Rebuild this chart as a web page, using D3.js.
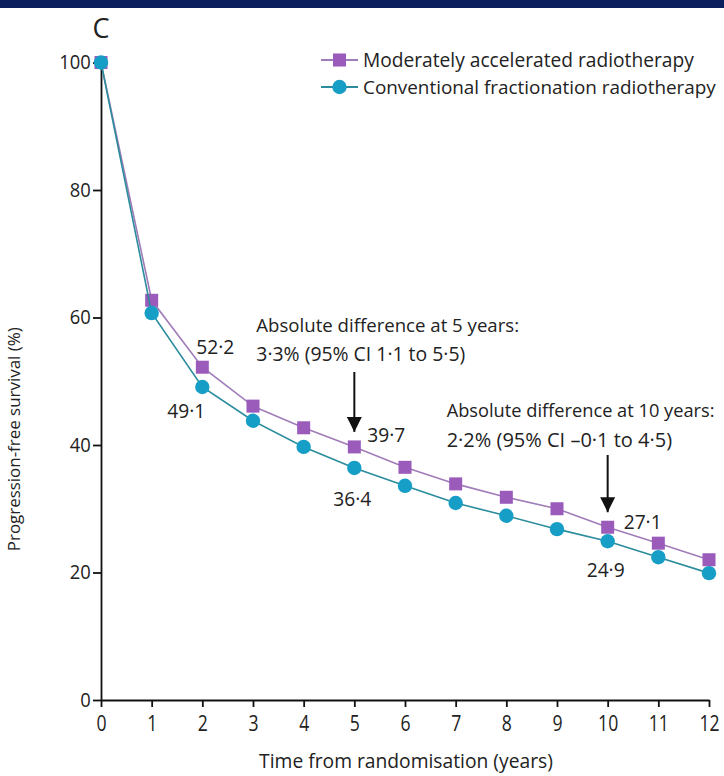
<!DOCTYPE html>
<html>
<head>
<meta charset="utf-8">
<script src="https://cdn.jsdelivr.net/npm/d3@7/dist/d3.min.js"></script>
<style>
  html, body { margin: 0; padding: 0; background: #fff; }
  svg { display: block; }
  text { font-family: "Open Sans", "Noto Sans", sans-serif; fill: #222; }
</style>
</head>
<body>
<svg id="chart" width="724" height="776"></svg>
<script>
// Progression-free survival by treatment arm, yearly estimates
const years = [0, 1, 2, 3, 4, 5, 6, 7, 8, 9, 10, 11, 12];
const accelerated = [100, 62.7, 52.2, 46.1, 42.7, 39.7, 36.5, 33.9, 31.8, 30.0, 27.1, 24.6, 22.0];
const conventional = [100, 60.7, 49.1, 43.8, 39.7, 36.4, 33.6, 30.9, 28.9, 26.8, 24.9, 22.4, 19.9];
const yTicks = [0, 20, 40, 60, 80, 100];
const seriesNames = ["Moderately accelerated radiotherapy", "Conventional fractionation radiotherapy"];

// Labelled values (index into years)
const labelled = [
  { series: "acc", i: 2, text: "52·2", dx: 13, dy: -20, anchor: "middle" },
  { series: "con", i: 2, text: "49·1", dx: -16, dy: 24, anchor: "middle" },
  { series: "acc", i: 5, text: "39·7", dx: 13, dy: -12, anchor: "start" },
  { series: "con", i: 5, text: "36·4", dx: -2, dy: 31, anchor: "middle" },
  { series: "acc", i: 10, text: "27·1", dx: 16, dy: -5, anchor: "start" },
  { series: "con", i: 10, text: "24·9", dx: -2, dy: 29, anchor: "middle" }
];

const notes = [
  { i: 5, lines: ["Absolute difference at 5 years:", "3·3% (95% CI 1·1 to 5·5)"], dx: -98, y0: 325, lens: [263, 209], arrowTop: 372 },
  { i: 10, lines: ["Absolute difference at 10 years:", "2·2% (95% CI –0·1 to 4·5)"], dx: -161, y0: 411, lens: [268, 232], arrowTop: 455 }
];

const purple = "#9a5bbb", purpleLine = "#a07cb8";
const teal = "#169ec6", tealLine = "#2a8c9c";

const svg = d3.select("#chart");

// shrink a text's font size until its natural width fits the given width
function fitWidth(sel, width, maxSize) {
  sel.attr("font-size", maxSize);
  const w = sel.node().getComputedTextLength();
  if (w > width) sel.attr("font-size", maxSize * width / w);
  return sel;
}

// header band
svg.append("rect").attr("x", 0).attr("y", 0).attr("width", 724).attr("height", 8).attr("fill", "#0b1f5e");

const x = d3.scaleLinear().domain([0, 12]).range([101, 709]);
const y = d3.scaleLinear().domain([0, 100]).range([700, 62.5]);

// panel letter
svg.append("text").attr("x", 101).attr("y", 29).attr("dy", "0.35em")
  .attr("text-anchor", "middle").attr("font-size", 27).attr("font-weight", 500).text("C");

// axes
const yAxis = svg.append("g").attr("transform", `translate(${x(0)},0)`)
  .call(d3.axisLeft(y).tickValues(yTicks).tickSize(8).tickSizeOuter(0).tickPadding(3));
yAxis.selectAll("text").attr("font-size", 20).attr("transform", "scale(0.92,1)")
  .style("font-family", '"Open Sans", sans-serif').attr("fill", "#222");
yAxis.selectAll("line, path").attr("stroke", "#111").attr("stroke-width", 1.8);

const xAxis = svg.append("g").attr("transform", `translate(0,${y(0)})`)
  .call(d3.axisBottom(x).tickValues(years).tickSize(7).tickSizeOuter(0).tickPadding(8));
xAxis.selectAll("text").attr("font-size", 22).attr("transform", "scale(0.8,1)")
  .style("font-family", '"Open Sans", sans-serif').attr("fill", "#222");
xAxis.selectAll("line, path").attr("stroke", "#111").attr("stroke-width", 1.8);

// axis titles
fitWidth(svg.append("text").attr("transform", `translate(14,${(y(0) + y(100)) / 2 + 58}) rotate(-90)`)
  .attr("text-anchor", "middle").attr("dy", "0.35em")
  .text("Progression-free survival (%)"), 224, 18.5);
fitWidth(svg.append("text").attr("x", 406).attr("y", 761).attr("dy", "0.35em")
  .attr("text-anchor", "middle")
  .text("Time from randomisation (years)"), 294, 20);

// lines and markers
const line = d3.line().x((d, i) => x(years[i])).y(d => y(d));
svg.append("path").datum(accelerated).attr("d", line).attr("fill", "none")
  .attr("stroke", purpleLine).attr("stroke-width", 1.6);
svg.append("g").selectAll("rect").data(accelerated).join("rect")
  .attr("x", (d, i) => x(years[i]) - 6.5).attr("y", d => y(d) - 6.5)
  .attr("width", 13).attr("height", 13).attr("fill", purple);

svg.append("path").datum(conventional).attr("d", line).attr("fill", "none")
  .attr("stroke", tealLine).attr("stroke-width", 1.6);
svg.append("g").selectAll("circle").data(conventional).join("circle")
  .attr("cx", (d, i) => x(years[i])).attr("cy", d => y(d)).attr("r", 7.2).attr("fill", teal);

// value labels
labelled.forEach(l => {
  const v = (l.series === "acc" ? accelerated : conventional)[l.i];
  svg.append("text").attr("x", x(years[l.i]) + l.dx).attr("y", y(v) + l.dy).attr("dy", "0.35em")
    .attr("text-anchor", l.anchor).attr("font-size", 20)
    .attr("textLength", 38).attr("lengthAdjust", "spacingAndGlyphs").text(l.text);
});

// difference notes with arrows
svg.append("defs").append("marker").attr("id", "arrow").attr("viewBox", "0 0 10 10")
  .attr("refX", 10).attr("refY", 5).attr("markerWidth", 8).attr("markerHeight", 7.5)
  .attr("markerUnits", "strokeWidth").attr("orient", "auto")
  .append("path").attr("d", "M0,0 L10,5 L0,10 Z").attr("fill", "#111");

notes.forEach(n => {
  const cx = x(years[n.i]);
  n.lines.forEach((t, k) => {
    fitWidth(svg.append("text").attr("x", cx + n.dx).attr("y", n.y0 + k * 29).attr("dy", "0.35em").text(t),
      n.lens[k], 20);
  });
  svg.append("line").attr("x1", cx).attr("x2", cx).attr("y1", n.arrowTop).attr("y2", y(accelerated[n.i]) - 15)
    .attr("stroke", "#111").attr("stroke-width", 2).attr("marker-end", "url(#arrow)");
});

// legend
const legend = svg.append("g");
[[purple, purpleLine, "square"], [teal, tealLine, "circle"]].forEach(([c, lc, shape], k) => {
  const gy = 60 + k * 27;
  legend.append("line").attr("x1", 321).attr("x2", 358).attr("y1", gy).attr("y2", gy)
    .attr("stroke", lc).attr("stroke-width", 1.8);
  if (shape === "square") {
    legend.append("rect").attr("x", 333).attr("y", gy - 6.5).attr("width", 13).attr("height", 13).attr("fill", c);
  } else {
    legend.append("circle").attr("cx", 339.5).attr("cy", gy).attr("r", 7.2).attr("fill", c);
  }
  fitWidth(legend.append("text").attr("x", 363).attr("y", gy).attr("dy", "0.35em").text(seriesNames[k]),
    k === 0 ? 331 : 353, 20);
});
</script>
</body>
</html>
